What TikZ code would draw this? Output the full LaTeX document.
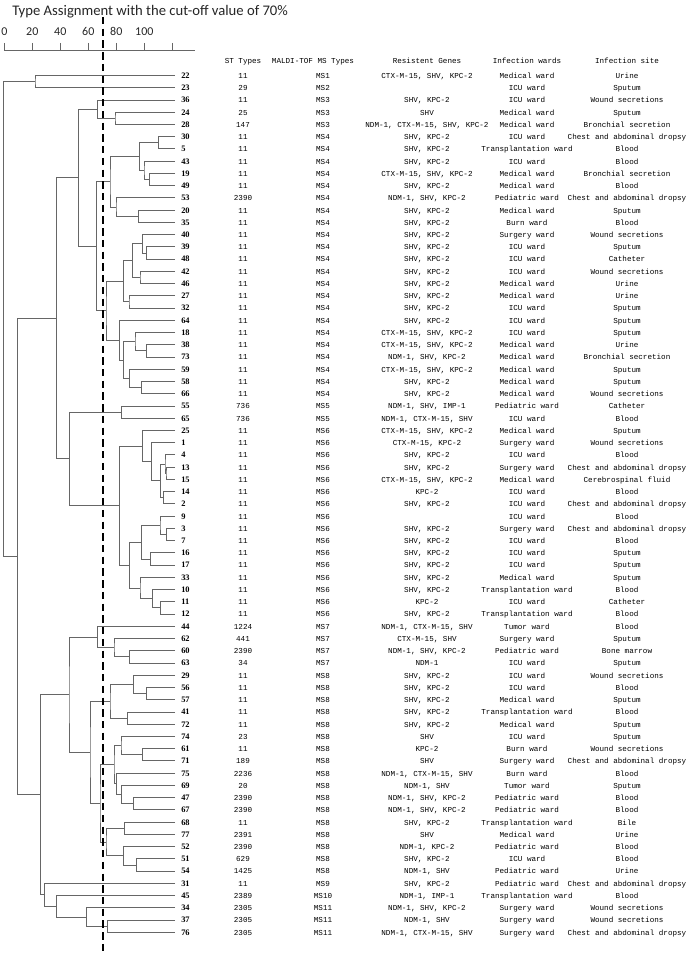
\documentclass[tikz,border=0pt]{standalone}
\usepackage{fontspec}
\setmonofont{Liberation Mono}
\newfontfamily\tnr{Liberation Serif}
\newfontfamily\calib{Carlito}
\usetikzlibrary{calc}

\tikzset{
  dend/.style={draw=black!60, line width=0.7pt},
  tab/.style={font=\ttfamily\fontsize{5.7}{6}\selectfont, anchor=mid, inner sep=0pt},
  leaf/.style={font=\tnr\bfseries\fontsize{6.3}{7}\selectfont, anchor=mid west, inner sep=0pt},
  cutoff/.style={line width=2.2pt, dash pattern=on 5.5pt off 3.3pt},
}

% one merge of the tree: name, height, two children
\newcommand{\clus}[4]{%
  \path (#3) -- (#4) coordinate[pos=0.5] (#1m);
  \coordinate (#1h) at (#2,0);
  \coordinate (#1) at (#1m -| #1h);
  \draw[dend] (#3) -| (#1) |- (#4);
}

\begin{document}
\begin{tikzpicture}[x=0.75pt, y=-0.75pt]
    \useasboundingbox (0,0) rectangle (685,956);
    \node[font=\calib\fontsize{11}{13}\selectfont, text=black!85, anchor=base west, inner sep=0pt] (title) at (12,15.5) {Type Assignment with the cut-off value of 70\%};

    % scale
    \draw[dend] (4.3,50) -- (195,50);
    \foreach \j in {0,...,6}{
        \draw[dend] ({4.3+28*\j},43) -- ({4.3+28*\j},50);
    }
    \foreach \v [count=\j from 0] in {0,20,40,60,80,100}{
        \node[font=\calib\fontsize{9}{10}\selectfont, text=black!85, anchor=base, inner sep=0pt] (ax\v) at ({4.3+28*\j},36) {\v};
    }

    % header
    \node[tab] (hst) at (243,61) {ST Types};
    \node[tab] (hms) at (313,61) {MALDI-TOF MS Types};
    \node[tab] (hge) at (427,61) {Resistent Genes};
    \node[tab] (hwa) at (527,61) {Infection wards};
    \node[tab] (hsi) at (627,61) {Infection site};

    % rows
    \foreach \id/\st/\ms/\gene/\ward/\site [count=\i from 0] in {
        22/11/MS1/{CTX-M-15, SHV, KPC-2}/Medical ward/Urine,
        23/29/MS2//ICU ward/Sputum,
        36/11/MS3/{SHV, KPC-2}/ICU ward/Wound secretions,
        24/25/MS3/SHV/Medical ward/Sputum,
        28/147/MS3/{NDM-1, CTX-M-15, SHV, KPC-2}/Medical ward/Bronchial secretion,
        30/11/MS4/{SHV, KPC-2}/ICU ward/Chest and abdominal dropsy,
        5/11/MS4/{SHV, KPC-2}/Transplantation ward/Blood,
        43/11/MS4/{SHV, KPC-2}/ICU ward/Blood,
        19/11/MS4/{CTX-M-15, SHV, KPC-2}/Medical ward/Bronchial secretion,
        49/11/MS4/{SHV, KPC-2}/Medical ward/Blood,
        53/2390/MS4/{NDM-1, SHV, KPC-2}/Pediatric ward/Chest and abdominal dropsy,
        20/11/MS4/{SHV, KPC-2}/Medical ward/Sputum,
        35/11/MS4/{SHV, KPC-2}/Burn ward/Blood,
        40/11/MS4/{SHV, KPC-2}/Surgery ward/Wound secretions,
        39/11/MS4/{SHV, KPC-2}/ICU ward/Sputum,
        48/11/MS4/{SHV, KPC-2}/ICU ward/Catheter,
        42/11/MS4/{SHV, KPC-2}/ICU ward/Wound secretions,
        46/11/MS4/{SHV, KPC-2}/Medical ward/Urine,
        27/11/MS4/{SHV, KPC-2}/Medical ward/Urine,
        32/11/MS4/{SHV, KPC-2}/ICU ward/Sputum,
        64/11/MS4/{SHV, KPC-2}/ICU ward/Sputum,
        18/11/MS4/{CTX-M-15, SHV, KPC-2}/ICU ward/Sputum,
        38/11/MS4/{CTX-M-15, SHV, KPC-2}/Medical ward/Urine,
        73/11/MS4/{NDM-1, SHV, KPC-2}/Medical ward/Bronchial secretion,
        59/11/MS4/{CTX-M-15, SHV, KPC-2}/Medical ward/Sputum,
        58/11/MS4/{SHV, KPC-2}/Medical ward/Sputum,
        66/11/MS4/{SHV, KPC-2}/Medical ward/Wound secretions,
        55/736/MS5/{NDM-1, SHV, IMP-1}/Pediatric ward/Catheter,
        65/736/MS5/{NDM-1, CTX-M-15, SHV}/ICU ward/Blood,
        25/11/MS6/{CTX-M-15, SHV, KPC-2}/Medical ward/Sputum,
        1/11/MS6/{CTX-M-15, KPC-2}/Surgery ward/Wound secretions,
        4/11/MS6/{SHV, KPC-2}/ICU ward/Blood,
        13/11/MS6/{SHV, KPC-2}/Surgery ward/Chest and abdominal dropsy,
        15/11/MS6/{CTX-M-15, SHV, KPC-2}/Medical ward/Cerebrospinal fluid,
        14/11/MS6/KPC-2/ICU ward/Blood,
        2/11/MS6/{SHV, KPC-2}/ICU ward/Chest and abdominal dropsy,
        9/11/MS6//ICU ward/Blood,
        3/11/MS6/{SHV, KPC-2}/Surgery ward/Chest and abdominal dropsy,
        7/11/MS6/{SHV, KPC-2}/ICU ward/Blood,
        16/11/MS6/{SHV, KPC-2}/ICU ward/Sputum,
        17/11/MS6/{SHV, KPC-2}/ICU ward/Sputum,
        33/11/MS6/{SHV, KPC-2}/Medical ward/Sputum,
        10/11/MS6/{SHV, KPC-2}/Transplantation ward/Blood,
        11/11/MS6/KPC-2/ICU ward/Catheter,
        12/11/MS6/{SHV, KPC-2}/Transplantation ward/Blood,
        44/1224/MS7/{NDM-1, CTX-M-15, SHV}/Tumor ward/Blood,
        62/441/MS7/{CTX-M-15, SHV}/Surgery ward/Sputum,
        60/2390/MS7/{NDM-1, SHV, KPC-2}/Pediatric ward/Bone marrow,
        63/34/MS7/NDM-1/ICU ward/Sputum,
        29/11/MS8/{SHV, KPC-2}/ICU ward/Wound secretions,
        56/11/MS8/{SHV, KPC-2}/ICU ward/Blood,
        57/11/MS8/{SHV, KPC-2}/Medical ward/Sputum,
        41/11/MS8/{SHV, KPC-2}/Transplantation ward/Blood,
        72/11/MS8/{SHV, KPC-2}/Medical ward/Sputum,
        74/23/MS8/SHV/ICU ward/Sputum,
        61/11/MS8/KPC-2/Burn ward/Wound secretions,
        71/189/MS8/SHV/Surgery ward/Chest and abdominal dropsy,
        75/2236/MS8/{NDM-1, CTX-M-15, SHV}/Burn ward/Blood,
        69/20/MS8/{NDM-1, SHV}/Tumor ward/Sputum,
        47/2390/MS8/{NDM-1, SHV, KPC-2}/Pediatric ward/Blood,
        67/2390/MS8/{NDM-1, SHV, KPC-2}/Pediatric ward/Blood,
        68/11/MS8/{SHV, KPC-2}/Transplantation ward/Bile,
        77/2391/MS8/SHV/Medical ward/Urine,
        52/2390/MS8/{NDM-1, KPC-2}/Pediatric ward/Blood,
        51/629/MS8/{SHV, KPC-2}/ICU ward/Blood,
        54/1425/MS8/{NDM-1, SHV}/Pediatric ward/Urine,
        31/11/MS9/{SHV, KPC-2}/Pediatric ward/Chest and abdominal dropsy,
        45/2389/MS10/{NDM-1, IMP-1}/Transplantation ward/Blood,
        34/2305/MS11/{NDM-1, SHV, KPC-2}/Surgery ward/Wound secretions,
        37/2305/MS11/{NDM-1, SHV}/Surgery ward/Wound secretions,
        76/2305/MS11/{NDM-1, CTX-M-15, SHV}/Surgery ward/Chest and abdominal dropsy}{
        \coordinate (l\id) at (175,{75.5+12.24*\i});
        \node[leaf] (n\id) at (181,{75.5+12.24*\i}) {\id};
        \node[tab] (st\id) at (243,{75.5+12.24*\i}) {\st};
        \node[tab] (ms\id) at (323,{75.5+12.24*\i}) {\ms};
        \node[tab] (ge\id) at (427,{75.5+12.24*\i}) {\gene};
        \node[tab] (wa\id) at (527,{75.5+12.24*\i}) {\ward};
        \node[tab] (si\id) at (627,{75.5+12.24*\i}) {\site};
    }

    % tree, bottom up
    \foreach \nm/\hx/\ca/\cb in {
        k1/35/l22/l23, k2/115/l24/l28, k3/97.3/l36/k2,
        k4/158.3/l30/l5, k5/149.3/l19/l49, k6/144/l43/k5, k7/139.3/k4/k6,
        k8/138.3/l20/l35, k9/116/l53/k8, k10/110/k7/k9,
        k11/146.7/l39/l48, k12/142.7/l40/k11, k13/140/l42/l46, k14/132.7/k12/k13,
        k15/129/l27/l32, k16/123.3/k14/k15,
        k17/146.7/l38/l73, k18/135/l18/k17, k19/141.7/l58/l66, k20/129.3/l59/k19,
        k21/123.3/k18/k20, k22/119.3/l64/k21, k23/106/k16/k22, k24/96.7/k10/k23,
        k25/78.3/k3/k24,
        k26/121.7/l55/l65, k27/166/l13/l15, k28/165/l4/k27, k29/163.3/l14/l2,
        k30/160.7/k28/k29, k31/151.7/l1/k30, k32/142.2/l25/k31,
        k33/166.7/l3/l7, k34/160/l9/k33, k35/150.7/l16/l17, k36/141.7/k34/k35,
        k37/160.7/l11/l12, k38/152.7/l10/k37, k39/140/l33/k38, k40/129.3/k36/k39,
        k41/119.3/k32/k40, k42/69.3/k26/k41, k43/56.7/k25/k42,
        k44/129.3/l60/l63, k45/114/l62/k44, k46/97.3/l44/k45,
        k47/146.7/l56/l57, k48/133.3/l29/k47, k49/127.3/l41/l72, k50/110/k48/k49,
        k51/142.7/l61/l71, k52/121/l74/k51, k53/133.3/l47/l67, k54/121.7/l69/k53,
        k55/116.7/l75/k54, k56/114/k52/k55,
        k57/124.3/l68/l77, k58/136.7/l51/l54, k59/123.3/l52/k58, k60/106/k57/k59,
        k61/100/k56/k60, k62/90/k50/k61, k63/69/k46/k62,
        k64/107.3/l37/l76, k65/86.7/l34/k64, k66/56.7/l45/k65, k67/44.3/l31/k66,
        k68/40.7/k63/k67, k69/17.3/k43/k68, k70/3.3/k1/k69}{
        \clus{\nm}{\hx}{\ca}{\cb}
    }

    % cut-off at 70%
    \coordinate (cuttop) at (103,17);
    \coordinate (cutbot) at (103,955);
    \draw[cutoff] (cuttop) -- (cutbot);
\end{tikzpicture}
\end{document}
